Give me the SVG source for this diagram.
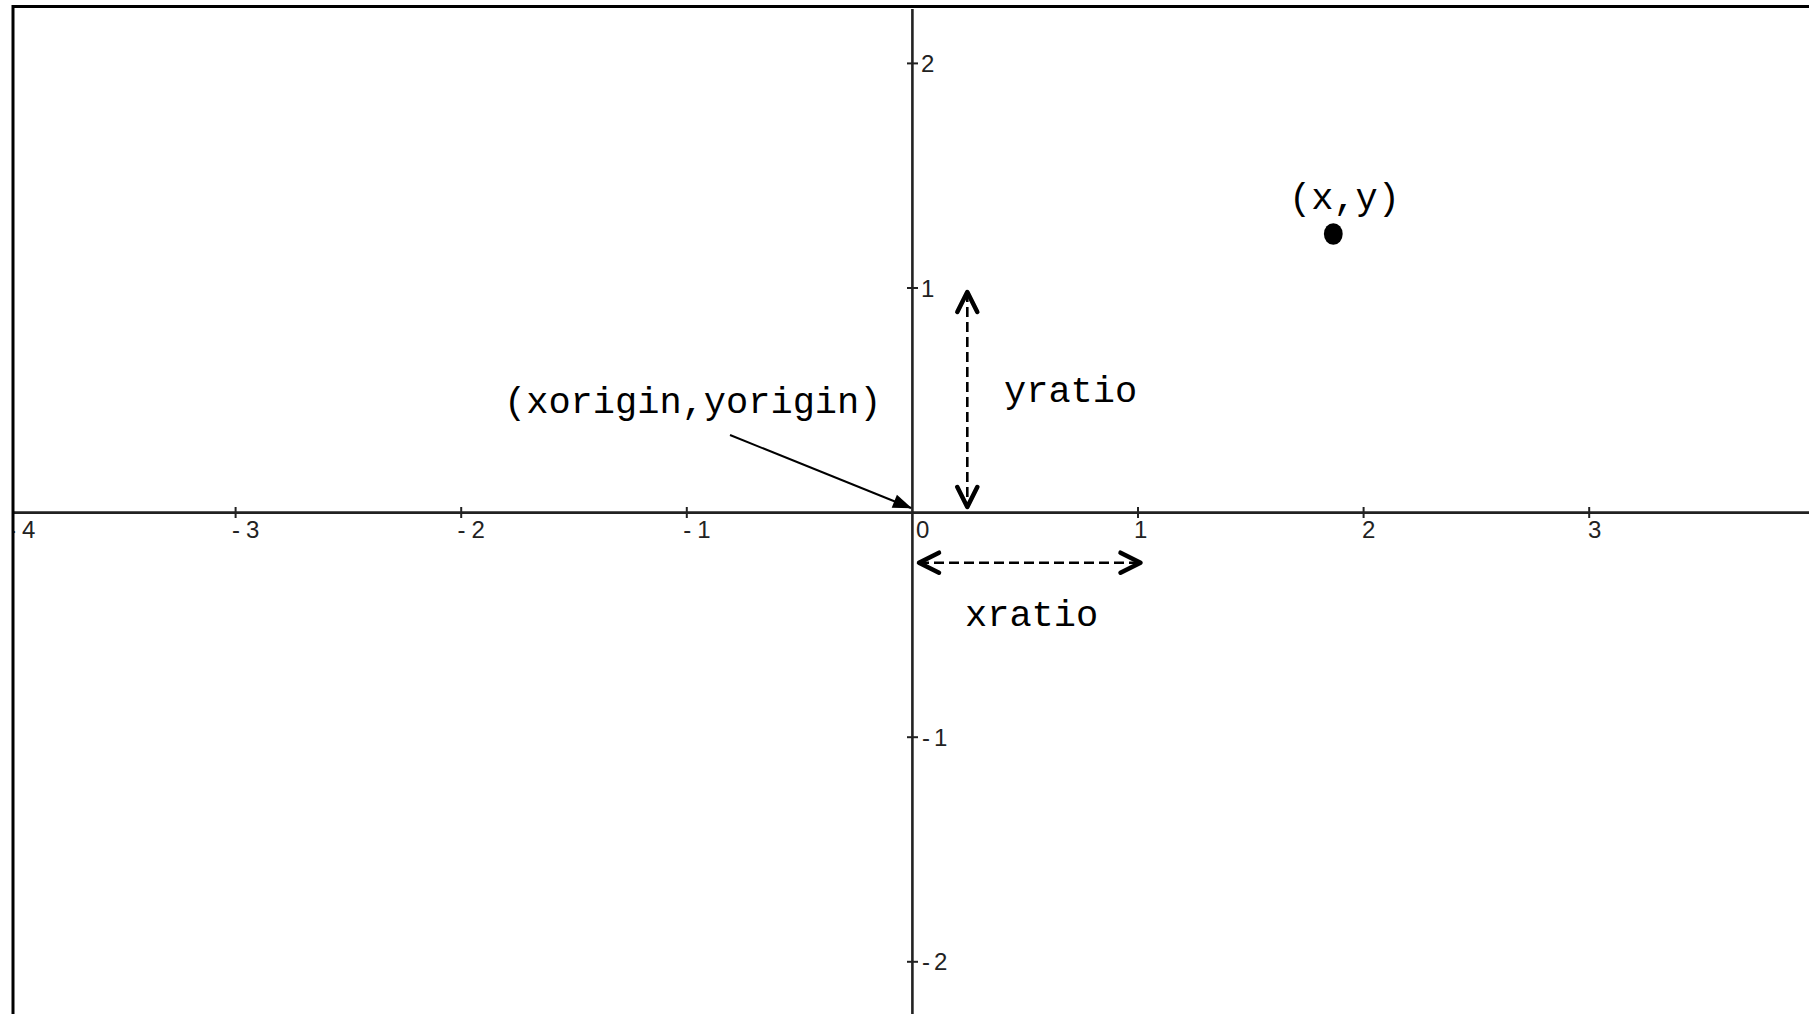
<svg xmlns="http://www.w3.org/2000/svg" width="1809" height="1014" viewBox="0 0 1809 1014">
<style>
.axis{stroke:#222;stroke-width:2.6;fill:none}
.tick{stroke:#222;stroke-width:2;fill:none}
.lbl{font-family:"Liberation Sans",Arial,sans-serif;font-size:24px;fill:#222}
.mono{font-family:"Liberation Mono","Courier New",monospace;font-size:37px;fill:#000}
.dash{stroke:#000;stroke-width:2.6;stroke-dasharray:10 5;fill:none}
.ptr{stroke:#000;stroke-width:2;fill:none}
</style>
<defs>
<marker id="tri" markerUnits="userSpaceOnUse" viewBox="-20 -8 22 16" markerWidth="22" markerHeight="16" refX="0" refY="0" orient="auto" overflow="visible">
<path d="M1,0 L-18,-7 L-18,7 z" fill="#000"/>
</marker>
<marker id="chev" markerUnits="userSpaceOnUse" viewBox="-25 -14 30 28" markerWidth="30" markerHeight="28" refX="0" refY="0" orient="auto-start-reverse" overflow="visible">
<path d="M-20,-10 L0,0 L-20,10" fill="none" stroke="#000" stroke-width="4.5" stroke-linecap="round" stroke-linejoin="round" stroke-dasharray="none"/>
</marker>
<clipPath id="plot"><rect x="14" y="0" width="1795" height="1014"/></clipPath>
</defs>
<rect x="0" y="0" width="1809" height="1014" fill="#fff"/>
<g id="axes">
<line class="axis" x1="13" y1="512.6" x2="1809" y2="512.6"/>
<line class="axis" x1="912.4" y1="9" x2="912.4" y2="1014"/>
</g>
<g id="xticks">
<line class="tick" x1="235.6" y1="507" x2="235.6" y2="518"/>
<line class="tick" x1="461.2" y1="507" x2="461.2" y2="518"/>
<line class="tick" x1="686.8" y1="507" x2="686.8" y2="518"/>
<line class="tick" x1="1138" y1="507" x2="1138" y2="518"/>
<line class="tick" x1="1363.6" y1="507" x2="1363.6" y2="518"/>
<line class="tick" x1="1589.2" y1="507" x2="1589.2" y2="518"/>
<g clip-path="url(#plot)">
<text class="lbl" x="8" y="538">-<tspan dx="6">4</tspan></text>
</g>
<text class="lbl" x="232" y="538">-<tspan dx="6">3</tspan></text>
<text class="lbl" x="457.6" y="538">-<tspan dx="6">2</tspan></text>
<text class="lbl" x="683.2" y="538">-<tspan dx="6">1</tspan></text>
<text class="lbl" x="916" y="538">0</text>
<text class="lbl" x="1134" y="538">1</text>
<text class="lbl" x="1362" y="538">2</text>
<text class="lbl" x="1588" y="538">3</text>
</g>
<g id="yticks">
<line class="tick" x1="907" y1="63.4" x2="918" y2="63.4"/>
<line class="tick" x1="907" y1="288" x2="918" y2="288"/>
<line class="tick" x1="907" y1="737.2" x2="918" y2="737.2"/>
<line class="tick" x1="907" y1="961.8" x2="918" y2="961.8"/>
<text class="lbl" x="921" y="72">2</text>
<text class="lbl" x="921" y="296.6">1</text>
<text class="lbl" x="922" y="745.8">-<tspan dx="4">1</tspan></text>
<text class="lbl" x="922" y="970.4">-<tspan dx="4">2</tspan></text>
</g>
<g id="border">
<path d="M13,1014 L13,6.5 L1809,6.5" fill="none" stroke="#000" stroke-width="3"/>
</g>
<g id="connectors">
<line class="ptr" x1="730" y1="435" x2="911" y2="508" marker-end="url(#tri)"/>
<line class="dash" x1="967.3" y1="292" x2="967.3" y2="507" marker-start="url(#chev)" marker-end="url(#chev)"/>
<line class="dash" x1="919" y1="562.7" x2="1140.5" y2="562.7" marker-start="url(#chev)" marker-end="url(#chev)"/>
</g>
<g id="node-origin">
<text class="mono" x="504" y="413">(xorigin,yorigin)</text>
</g>
<g id="node-yratio">
<text class="mono" x="1004" y="401.7">yratio</text>
</g>
<g id="node-xratio">
<text class="mono" x="965" y="626">xratio</text>
</g>
<g id="node-point">
<text class="mono" x="1289" y="209">(x,y)</text>
<ellipse cx="1333.3" cy="234" rx="9.4" ry="10.8" fill="#000"/>
</g>
</svg>
